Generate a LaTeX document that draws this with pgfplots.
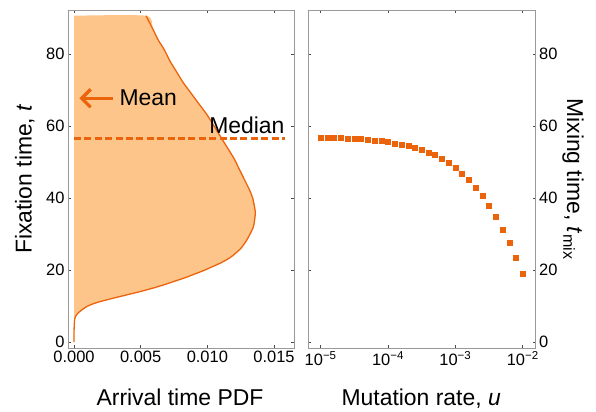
\documentclass[border=0pt]{standalone}
\usepackage{fontspec}
\setmainfont{Liberation Sans}
\usepackage{pgfplots}
\pgfplotsset{compat=1.18}
\usetikzlibrary{arrows.meta}
\definecolor{orng}{RGB}{235,100,12}
\definecolor{lorng}{RGB}{253,197,137}
\newcommand{\tickfont}{\fontsize{16.5}{19.8}\selectfont}
\newcommand{\labfont}{\fontsize{23}{27.6}\selectfont}
\begin{document}
\begin{tikzpicture}
\pgfplotsset{
  every axis/.append style={
    scale only axis,
    height=338bp,
    ymin=-1.6, ymax=92.2,
    ytick={0,20,40,60,80},
    tick align=inside,
    major tick length=3bp,
    minor tick num=0,
    axis line style={black!40, line width=0.8pt},
    tick style={black!70, line width=0.8pt},
    tick label style={font=\tickfont},
    /pgf/number format/assume math mode=true,
  }
}
% left panel
\begin{axis}[
  at={(0,0)}, anchor=south west,
  width=226bp,
  xmin=-0.00045, xmax=0.0165,
  xtick={0,0.005,0.01,0.015},
  xticklabels={0.000,0.005,0.010,0.015},
  scaled x ticks=false,
  yticklabels={0,20,40,60,80},
  clip=true,
]
\addplot[fill=lorng, draw=none, smooth, tension=0.4] coordinates {
(0,0) (0,2) (0.00001,4) (0.00004,6) (0.0001,7) (0.00028,8) (0.0006,9)
(0.0010,10) (0.0017,11) (0.0027,12) (0.0038,13) (0.0049,14) (0.0059,15)
(0.0068,16) (0.0076,17) (0.0084,18) (0.0091,19) (0.0098,20) (0.0104,21)
(0.0110,22) (0.0115,23) (0.0119,24) (0.0125,26) (0.0129,28) (0.0132,30)
(0.01345,32) (0.01355,34) (0.0136,36) (0.01352,38) (0.0134,40) (0.0132,42)
(0.0128,45) (0.0124,48) (0.0120,51) (0.0115,54) (0.0110,57) (0.0105,60)
(0.0100,63) (0.0094,66) (0.0088,69) (0.0082,72) (0.0077,75) (0.0072,78)
(0.0068,81) (0.0063,84) (0.0059,87) (0.0054,90.6) (0,90.6)
};
\addplot[draw=orng, line width=1.3bp, smooth, tension=0.4] coordinates {
(0,0) (0,2) (0.00001,4) (0.00004,6) (0.0001,7) (0.00028,8) (0.0006,9)
(0.0010,10) (0.0017,11) (0.0027,12) (0.0038,13) (0.0049,14) (0.0059,15)
(0.0068,16) (0.0076,17) (0.0084,18) (0.0091,19) (0.0098,20) (0.0104,21)
(0.0110,22) (0.0115,23) (0.0119,24) (0.0125,26) (0.0129,28) (0.0132,30)
(0.01345,32) (0.01355,34) (0.0136,36) (0.01352,38) (0.0134,40) (0.0132,42)
(0.0128,45) (0.0124,48) (0.0120,51) (0.0115,54) (0.0110,57) (0.0105,60)
(0.0100,63) (0.0094,66) (0.0088,69) (0.0082,72) (0.0077,75) (0.0072,78)
(0.0068,81) (0.0063,84) (0.0059,87) (0.0054,90.6)
};
\addplot[draw=orng, line width=2.6bp, dash pattern=on 7bp off 3.4bp] coordinates {(0,56.6) (0.0158,56.6)};
\addplot[draw=orng, line width=3.3bp, -{Straight Barb[length=9bp,width=18bp]}] coordinates {(0.0029,67.7) (0.0004,67.7)};
\node[anchor=base west, inner sep=0, font=\labfont] at (axis cs:0.0034,65.6) {Mean};
\node[anchor=base east, inner sep=0, font=\labfont] at (axis cs:0.0158,58.0) {Median};
\end{axis}
\node[rotate=90, anchor=base, inner sep=0, font=\labfont] at (-36.3bp,169bp) {Fixation time, \textit{t}};
\node[anchor=base, inner sep=0, font=\labfont] at (112bp,-57bp) {Arrival time PDF};
% right panel
\begin{axis}[
  at={(240.3bp,0)}, anchor=south west,
  width=227.4bp,
  xmode=log,
  xminorticks=false,
  xmin=6.546e-6, xmax=0.0156,
  xtick={1e-5,1e-4,1e-3,1e-2},
  xticklabels={10\textsuperscript{−5},10\textsuperscript{−4},10\textsuperscript{−3},10\textsuperscript{−2}},
  yticklabel pos=right,
  yticklabels={0,20,40,60,80},
]
\addplot[only marks, mark=square*, mark size=2.5bp, color=orng] coordinates {
(1.000e-5,56.8) (1.259e-5,56.8) (1.585e-5,56.8) (1.995e-5,56.8) (2.512e-5,56.5)
(3.162e-5,56.5) (3.981e-5,56.5) (5.012e-5,56.2) (6.310e-5,55.9) (7.943e-5,55.9)
(1.000e-4,55.7) (1.259e-4,55.1) (1.585e-4,54.8) (1.995e-4,54.5) (2.512e-4,54.0)
(3.162e-4,53.4) (3.981e-4,52.6) (5.012e-4,52.1) (6.310e-4,50.9) (7.943e-4,49.8)
(1.000e-3,48.5) (1.259e-3,46.8) (1.585e-3,45.1) (1.995e-3,42.9) (2.512e-3,40.7)
(3.162e-3,37.9) (3.981e-3,34.9) (5.012e-3,31.3) (6.310e-3,27.7) (7.943e-3,23.5)
(1.000e-2,19.1)
};
\end{axis}
\node[anchor=base, inner sep=0, font=\labfont] at (353.2bp,-57bp) {Mutation rate, \textit{u}};
\node[rotate=-90, anchor=base, inner sep=0, font=\labfont] at (499bp,169bp) {Mixing time, \textit{t}\textsubscript{mix}};
\pgfresetboundingbox
\path[use as bounding box] (-68bp,-64bp) rectangle (528bp,348bp);
\end{tikzpicture}
\end{document}
